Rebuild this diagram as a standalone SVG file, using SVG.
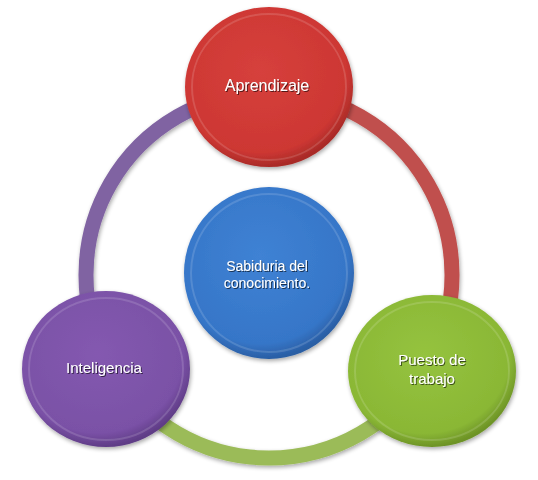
<svg xmlns="http://www.w3.org/2000/svg" width="538" height="480" viewBox="0 0 538 480">
  <defs>
    <style>
      .ring { fill: none; stroke-width: 15; filter: url(#sh); }
      .label { font-family: "Liberation Sans", Arial, sans-serif; fill: #ffffff; text-anchor: middle; filter: url(#tsh); }
      .rim { fill: none; stroke: #ffffff; stroke-opacity: 0.14; stroke-width: 2; }
    </style>
    <filter id="sh" x="-20%" y="-20%" width="140%" height="140%">
      <feGaussianBlur in="SourceAlpha" stdDeviation="2"/>
      <feOffset dx="1" dy="2" result="b"/>
      <feComponentTransfer><feFuncA type="linear" slope="0.35"/></feComponentTransfer>
      <feMerge><feMergeNode/><feMergeNode in="SourceGraphic"/></feMerge>
    </filter>
    <filter id="tsh" x="-10%" y="-30%" width="120%" height="160%">
      <feGaussianBlur in="SourceAlpha" stdDeviation="0.6"/>
      <feOffset dx="0.6" dy="0.8"/>
      <feComponentTransfer><feFuncA type="linear" slope="0.6"/></feComponentTransfer>
      <feMerge><feMergeNode/><feMergeNode in="SourceGraphic"/></feMerge>
    </filter>
    <radialGradient id="gRed" cx="45%" cy="40%" r="60%">
      <stop offset="0" stop-color="#d6403c"/>
      <stop offset="0.85" stop-color="#cd3733"/>
      <stop offset="1" stop-color="#a82a27"/>
    </radialGradient>
    <radialGradient id="gBlue" cx="45%" cy="40%" r="60%">
      <stop offset="0" stop-color="#3f82d4"/>
      <stop offset="0.85" stop-color="#3676c8"/>
      <stop offset="1" stop-color="#2a5ea4"/>
    </radialGradient>
    <radialGradient id="gPurple" cx="45%" cy="40%" r="60%">
      <stop offset="0" stop-color="#8459b0"/>
      <stop offset="0.85" stop-color="#7a51a6"/>
      <stop offset="1" stop-color="#5f3c86"/>
    </radialGradient>
    <radialGradient id="gGreen" cx="45%" cy="40%" r="60%">
      <stop offset="0" stop-color="#95c33f"/>
      <stop offset="0.85" stop-color="#8ab735"/>
      <stop offset="1" stop-color="#6d9326"/>
    </radialGradient>
  </defs>
  <rect width="538" height="480" fill="#ffffff"/>

  <g id="connectors">
    <path class="ring" stroke="#c0504d" d="M269,92 A183,183 0 0 1 427.5,366.5"/>
    <path class="ring" stroke="#9bbb59" d="M427.5,366.5 A183,183 0 0 1 110.5,366.5"/>
    <path class="ring" stroke="#8064a2" d="M110.5,366.5 A183,183 0 0 1 269,92"/>
  </g>

  <g id="aprendizaje">
    <ellipse cx="269" cy="87" rx="84" ry="80" fill="url(#gRed)" filter="url(#sh)"/>
    <ellipse class="rim" cx="269" cy="87" rx="77" ry="73"/>
    <text class="label" x="267" y="91" font-size="16">Aprendizaje</text>
  </g>

  <g id="sabiduria">
    <ellipse cx="269" cy="273" rx="85" ry="86" fill="url(#gBlue)" filter="url(#sh)"/>
    <ellipse class="rim" cx="269" cy="273" rx="78" ry="79"/>
    <text class="label" x="267" y="271" font-size="14">Sabiduria del</text>
    <text class="label" x="267" y="288" font-size="14">conocimiento.</text>
  </g>

  <g id="inteligencia">
    <ellipse cx="106" cy="369" rx="84" ry="78" fill="url(#gPurple)" filter="url(#sh)"/>
    <ellipse class="rim" cx="106" cy="369" rx="77" ry="71"/>
    <text class="label" x="104" y="373" font-size="15">Inteligencia</text>
  </g>

  <g id="puesto">
    <ellipse cx="432" cy="371" rx="84" ry="76" fill="url(#gGreen)" filter="url(#sh)"/>
    <ellipse class="rim" cx="432" cy="371" rx="77" ry="69"/>
    <text class="label" x="432" y="365" font-size="15">Puesto de</text>
    <text class="label" x="432" y="384" font-size="15">trabajo</text>
  </g>
</svg>
